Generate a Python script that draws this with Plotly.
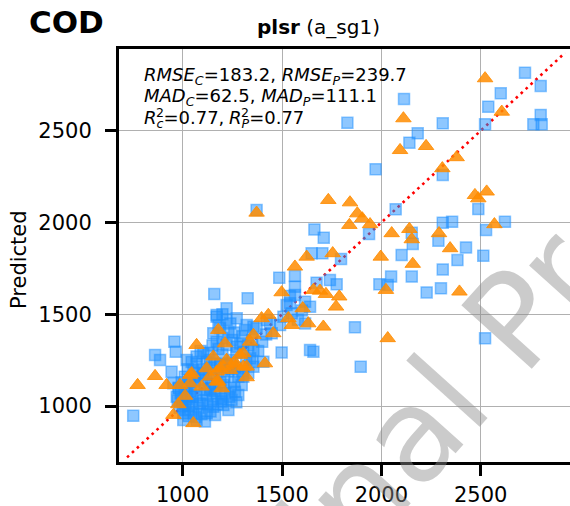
import plotly.graph_objects as go

# Calibration set (measured, predicted)
cal_measured = [
    2723, 2802, 2601, 2538, 2802, 2765, 2807, 2522, 2114, 1829, 2309, 2183, 2141, 1971, 2309,
    2072, 1372, 2488, 2527, 2622, 2309, 2356, 1938, 1663, 1710, 1649, 1703, 1797, 2153, 2158,
    2287, 2426, 2513, 2102, 2383, 2309, 2153, 2049, 1990, 2032, 2228, 2300, 1867, 1896, 2522,
    1658, 1498, 1486, 1565, 1565, 1565, 1741, 1775, 1674, 1159, 1327, 1221, 1171, 1641, 1523,
    1616, 1490, 1423, 1356, 1448, 1314, 1507, 1549, 1616, 1641, 1600, 1580, 1540, 1540,
    751, 861, 886, 958, 965, 944, 970, 995, 1012, 1003, 1112, 1163, 1230, 1246, 1154, 1087,
    1037, 1020, 1062, 1137, 1205, 1263, 1297, 1305, 1356, 1406, 1339, 1305, 1356, 1272, 1221,
    1171, 1154, 1188, 1221, 1171, 1272, 1322, 1372, 1439, 1070, 1020, 1054, 1104, 1137, 1104,
    1188, 1238, 1037, 953, 979, 1171, 1196, 1121, 1054, 1070,
    1000, 1020, 1050, 1080, 1100, 1120, 1040, 1060, 1090, 1110, 1130, 1150, 1170, 1190, 1210,
    1230, 1250, 1270, 1200, 1180, 1160, 1140, 1120, 1100, 1080, 1060, 1030, 1010, 990, 975,
    985, 1005, 1030, 1065, 1095, 1140, 1175, 1195, 1215, 1240, 1260, 1280, 1300, 1320, 1290,
    1250, 1230, 1200, 1180, 1150, 1130, 1190, 1220, 1245, 1265, 1140, 1160, 1110, 1070, 1050,
    1030, 1015, 1125, 1150, 1205, 1235, 1270, 1090, 1070, 1045, 1025, 1010, 995, 980, 1200,
    1240, 1260, 1300, 1330, 1350, 1380, 1400, 1420, 1330, 1350, 1280,
]
cal_predicted = [
    2816, 2744, 2704, 2631, 2586, 2535, 2535, 2535, 2673, 2543, 2540, 2486, 2435, 2290, 2259,
    2072, 2068, 2073, 1959, 2004, 1999, 2004, 1937, 1962, 1917, 1832, 1832, 1801, 1944, 1883,
    1901, 1864, 1819, 1823, 1795, 1744, 1705, 1705, 1663, 1659, 1619, 1641, 1429, 1214, 1369,
    1296, 1292, 1699, 1708, 1650, 1605, 1686, 1663, 1672, 1610, 1587, 1532, 1496, 1541, 1550,
    1568, 1441, 1468, 1432, 1396, 1414, 1487, 1505, 1450, 1305, 1520, 1470, 1600, 1560,
    947, 1278, 1251, 1350, 1296, 1187, 1051, 1033, 978, 924, 915, 951, 978, 1033, 996, 1014,
    1051, 1096, 1133, 1087, 1114, 1078, 1114, 1160, 1214, 1241, 1260, 1296, 1305, 1323, 1332,
    1350, 1396, 1423, 1468, 1487, 1478, 1441, 1423, 1450, 1232, 1251, 1196, 1287, 1251, 1178,
    1214, 1232, 1142, 1124, 1096, 1069, 1024, 960, 960, 924,
    1000, 1040, 1010, 990, 1030, 1060, 1080, 1110, 1140, 1170, 1120, 1150, 1180, 1130, 1160,
    1190, 1250, 1290, 1280, 1310, 1230, 1210, 1240, 1200, 1180, 1160, 1130, 1100, 1070, 1030,
    990, 960, 945, 940, 955, 970, 1010, 1040, 1070, 1100, 1130, 1160, 1190, 1250, 1340,
    1360, 1400, 1370, 1440, 1330, 1290, 1230, 1220, 1200, 1210, 1100, 1080, 1090, 1060, 1050,
    1000, 1015, 1010, 1035, 1005, 1050, 1020, 1300, 1270, 1240, 1200, 1160, 1130, 1100, 1500,
    1450, 1400, 1380, 1330, 1360, 1300, 1350, 1390, 1180, 1240, 1060,
]

# Validation set (measured, predicted)
val_measured = [
    2522, 2111, 2606, 2094, 2225, 2379, 2307, 1733, 1842, 2471, 2488, 2530, 1372, 1879, 1904,
    1943, 1839, 2052, 2141, 2153, 2290, 2569, 2346, 1997, 2158, 1624, 1755, 1565, 1498, 1658,
    1691, 1721, 1788, 1772, 1604, 2023, 2393, 1708, 1632, 1549, 1532, 1431, 1397, 1456, 2032,
    1356, 1339,
    1179, 1070, 1213, 1305, 1414, 1154, 1221, 1272, 1322, 1121, 1188, 1238, 1045, 1137, 1322,
    861, 919, 773, 986, 1037, 1095, 1196, 1171, 1012, 978, 953, 1054, 1255, 1288, 1171, 1205,
    1037, 1179, 1305,
]
val_predicted = [
    2785, 2567, 2603, 2394, 2416, 2355, 2295, 2122, 2109, 2149, 2131, 2168, 2053, 2049, 2022,
    1990, 1986, 1941, 1964, 1908, 1941, 1990, 1859, 1813, 1774, 1813, 1832, 1759, 1619, 1632,
    1628, 1610, 1596, 1541, 1532, 1632, 1623, 1432, 1450, 1441, 1478, 1496, 1478, 1396, 1369,
    1387, 1350,
    1414, 1332, 1341, 1287, 1232, 1269, 1251, 1224, 1214, 1205, 1205, 1196, 1178, 1160, 1156,
    1163, 1114, 1114, 1114, 1123, 1105, 1096, 1133, 1055, 1009, 951, 906, 1233, 1278, 1187, 1214,
    1169, 1133, 1214,
]

# 1:1 reference line extent
ref_line = [720, 2925]

tick_vals = [1000, 1500, 2000, 2500]
tick_text = ["1000", "1500", "2000", "2500"]

stats_rmse = "<i>RMSE</i><sub><i>C</i></sub>=183.2, <i>RMSE</i><sub><i>P</i></sub>=239.7"
stats_mad = "<i>MAD</i><sub><i>C</i></sub>=62.5, <i>MAD</i><sub><i>P</i></sub>=111.1"
stats_r2_cal = "<i>R</i><sub><i>c</i></sub>=0.77,"
stats_r2_val = "<i>R</i><sub><i>P</i></sub>=0.77"

W, H = 570, 506
L, R, T, B = 119, 570, 49, 462


def px_x(px):
    return (px - L) / (R - L)


def px_y(py):
    return (B - py) / (B - T)


FONT = "DejaVu Sans"

fig = go.Figure()

fig.add_trace(go.Scatter(
    x=ref_line, y=ref_line, mode="lines",
    line=dict(color="red", width=2.6, dash="2.6px,4.1px"),
    hoverinfo="skip",
))
fig.add_trace(go.Scatter(
    x=cal_measured, y=cal_predicted, mode="markers",
    marker=dict(symbol="square", size=11, color="rgba(30,144,255,0.5)",
                line=dict(color="rgba(30,144,255,0.5)", width=1.5)),
))
fig.add_trace(go.Scatter(
    x=val_measured, y=val_predicted, mode="markers",
    marker=dict(symbol="triangle-up", size=13.5, color="rgba(255,140,0,0.85)",
                line=dict(color="rgba(255,140,0,0.85)", width=1)),
))

axis_common = dict(
    tickvals=tick_vals, ticktext=tick_text,
    showgrid=True, gridcolor="#b0b0b0", gridwidth=1.3,
    showline=True, linecolor="black", linewidth=3, mirror=True,
    ticks="outside", ticklen=11, tickwidth=3, tickcolor="black",
    tickfont=dict(family=FONT, size=21, color="black"),
    zeroline=False, automargin=False,
)

fig.update_layout(
    width=W, height=H,
    margin=dict(l=L, r=W - R, t=T, b=H - B, pad=0),
    plot_bgcolor="white", paper_bgcolor="white",
    showlegend=False,
    font=dict(family=FONT, color="black"),
    xaxis=dict(range=[679.4, 2949.5], ticklabelstandoff=1, **axis_common),
    yaxis=dict(range=[694.9, 2945.2], ticklabelstandoff=9, **axis_common),
)

annotations = [
    dict(text="<b>COD</b>", x=px_x(27), y=px_y(21.5), xanchor="left", yanchor="middle",
         font=dict(size=31, family=FONT)),
    dict(text="<b>plsr</b> (a_sg1)", x=px_x(255), y=px_y(27), xanchor="left", yanchor="middle",
         font=dict(size=20, family=FONT)),
    dict(text="Predicted", x=px_x(19), y=px_y(260), textangle=-90,
         xanchor="center", yanchor="middle", font=dict(size=21, family=FONT)),
    dict(text=stats_rmse, x=px_x(141.7), y=px_y(76), xanchor="left", yanchor="middle",
         font=dict(size=18, family=FONT)),
    dict(text=stats_mad, x=px_x(141.7), y=px_y(97), xanchor="left", yanchor="middle",
         font=dict(size=18, family=FONT)),
    dict(text=stats_r2_cal, x=px_x(141.7), y=px_y(119), xanchor="left", yanchor="middle",
         font=dict(size=18, family=FONT)),
    dict(text=stats_r2_val, x=px_x(227), y=px_y(119), xanchor="left", yanchor="middle",
         font=dict(size=18, family=FONT)),
]
# superscript 2 stacked above the subscripts of R
for sx in [153.5, 239]:
    annotations.append(dict(text="2", x=px_x(sx), y=px_y(112), xanchor="left",
                            yanchor="middle", font=dict(size=12.5, family=FONT)))

annotations.append(dict(
    text="Original Product", x=px_x(471), y=px_y(369), textangle=-48,
    xanchor="center", yanchor="middle",
    font=dict(size=130, family=FONT, color="rgba(140,140,140,0.45)"),
))

for a in annotations:
    a.update(xref="paper", yref="paper", showarrow=False)
fig.update_layout(annotations=annotations)

fig.write_html("out.html")
